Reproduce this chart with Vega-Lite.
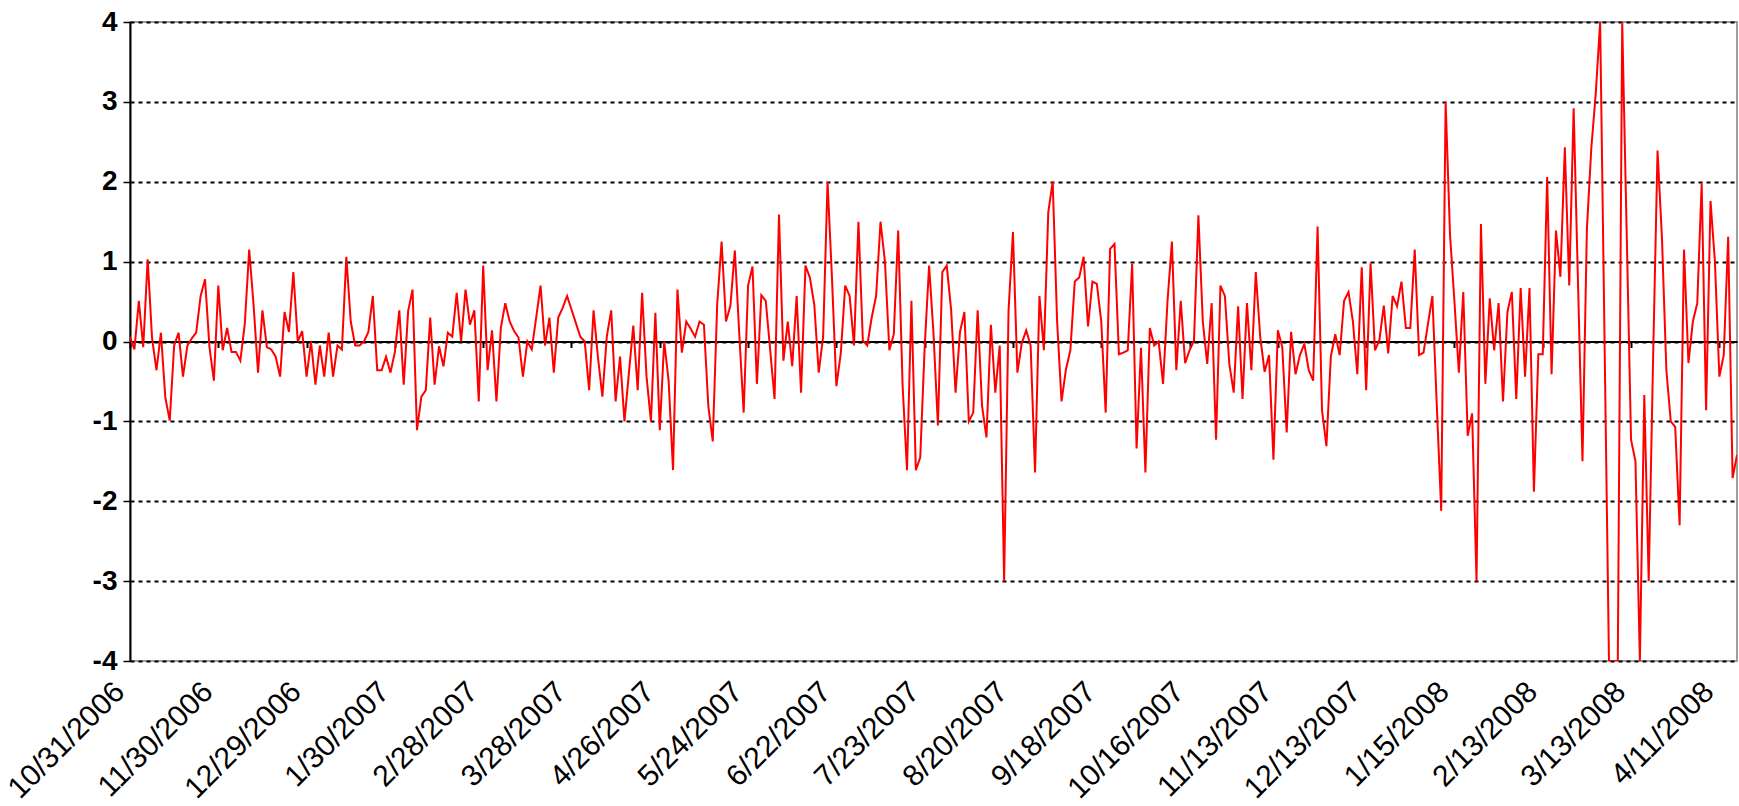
{
"$schema": "https://vega.github.io/schema/vega-lite/v6.json",
"width": 1607, "height": 639,
"autosize": "none",
"padding": {"left": 130, "top": 22, "right": 2, "bottom": 145},
"background": "white",
"config": {"view": {"stroke": "#808080", "strokeWidth": 1.5}, "font": "Liberation Sans"},
"data": {"values": [
{"i":0,"v":0.06},{"i":1,"v":-0.1},{"i":2,"v":0.51},{"i":3,"v":-0.07},{"i":4,"v":1.03},{"i":5,"v":0.04},{"i":6,"v":-0.36},{"i":7,"v":0.11},{"i":8,"v":-0.7},{"i":9,"v":-0.99},
{"i":10,"v":-0.05},{"i":11,"v":0.11},{"i":12,"v":-0.44},{"i":13,"v":-0.05},{"i":14,"v":0.04},{"i":15,"v":0.11},{"i":16,"v":0.57},{"i":17,"v":0.78},{"i":18,"v":-0.07},{"i":19,"v":-0.49},
{"i":20,"v":0.7},{"i":21,"v":-0.11},{"i":22,"v":0.17},{"i":23,"v":-0.13},{"i":24,"v":-0.13},{"i":25,"v":-0.24},{"i":26,"v":0.22},{"i":27,"v":1.15},{"i":28,"v":0.45},{"i":29,"v":-0.39},
{"i":30,"v":0.39},{"i":31,"v":-0.07},{"i":32,"v":-0.1},{"i":33,"v":-0.19},{"i":34,"v":-0.44},{"i":35,"v":0.37},{"i":36,"v":0.12},{"i":37,"v":0.87},{"i":38,"v":0.0},{"i":39,"v":0.13},
{"i":40,"v":-0.44},{"i":41,"v":0.0},{"i":42,"v":-0.54},{"i":43,"v":-0.05},{"i":44,"v":-0.44},{"i":45,"v":0.11},{"i":46,"v":-0.44},{"i":47,"v":-0.05},{"i":48,"v":-0.1},{"i":49,"v":1.06},
{"i":50,"v":0.25},{"i":51,"v":-0.05},{"i":52,"v":-0.05},{"i":53,"v":0.0},{"i":54,"v":0.12},{"i":55,"v":0.57},{"i":56,"v":-0.36},{"i":57,"v":-0.36},{"i":58,"v":-0.19},{"i":59,"v":-0.39},
{"i":60,"v":-0.13},{"i":61,"v":0.39},{"i":62,"v":-0.54},{"i":63,"v":0.38},{"i":64,"v":0.65},{"i":65,"v":-1.11},{"i":66,"v":-0.69},{"i":67,"v":-0.61},{"i":68,"v":0.3},{"i":69,"v":-0.54},
{"i":70,"v":-0.06},{"i":71,"v":-0.31},{"i":72,"v":0.11},{"i":73,"v":0.06},{"i":74,"v":0.61},{"i":75,"v":0.0},{"i":76,"v":0.65},{"i":77,"v":0.21},{"i":78,"v":0.39},{"i":79,"v":-0.75},
{"i":80,"v":0.95},{"i":81,"v":-0.36},{"i":82,"v":0.14},{"i":83,"v":-0.75},{"i":84,"v":0.17},{"i":85,"v":0.48},{"i":86,"v":0.25},{"i":87,"v":0.13},{"i":88,"v":0.05},{"i":89,"v":-0.44},
{"i":90,"v":0.0},{"i":91,"v":-0.1},{"i":92,"v":0.3},{"i":93,"v":0.7},{"i":94,"v":-0.05},{"i":95,"v":0.3},{"i":96,"v":-0.39},{"i":97,"v":0.3},{"i":98,"v":0.42},{"i":99,"v":0.57},
{"i":100,"v":0.4},{"i":101,"v":0.23},{"i":102,"v":0.06},{"i":103,"v":0.0},{"i":104,"v":-0.61},{"i":105,"v":0.39},{"i":106,"v":-0.2},{"i":107,"v":-0.69},{"i":108,"v":0.06},{"i":109,"v":0.39},
{"i":110,"v":-0.75},{"i":111,"v":-0.19},{"i":112,"v":-1.0},{"i":113,"v":-0.4},{"i":114,"v":0.2},{"i":115,"v":-0.61},{"i":116,"v":0.61},{"i":117,"v":-0.44},{"i":118,"v":-1.0},{"i":119,"v":0.36},
{"i":120,"v":-1.11},{"i":121,"v":0.0},{"i":122,"v":-0.49},{"i":123,"v":-1.61},{"i":124,"v":0.65},{"i":125,"v":-0.14},{"i":126,"v":0.25},{"i":127,"v":0.16},{"i":128,"v":0.06},{"i":129,"v":0.25},
{"i":130,"v":0.21},{"i":131,"v":-0.81},{"i":132,"v":-1.25},{"i":133,"v":0.46},{"i":134,"v":1.25},{"i":135,"v":0.25},{"i":136,"v":0.45},{"i":137,"v":1.14},{"i":138,"v":0.1},{"i":139,"v":-0.89},
{"i":140,"v":0.7},{"i":141,"v":0.94},{"i":142,"v":-0.53},{"i":143,"v":0.58},{"i":144,"v":0.51},{"i":145,"v":-0.1},{"i":146,"v":-0.72},{"i":147,"v":1.59},{"i":148,"v":-0.24},{"i":149,"v":0.25},
{"i":150,"v":-0.31},{"i":151,"v":0.57},{"i":152,"v":-0.64},{"i":153,"v":0.95},{"i":154,"v":0.8},{"i":155,"v":0.46},{"i":156,"v":-0.39},{"i":157,"v":0.06},{"i":158,"v":2.0},{"i":159,"v":0.8},
{"i":160,"v":-0.56},{"i":161,"v":-0.15},{"i":162,"v":0.7},{"i":163,"v":0.57},{"i":164,"v":-0.05},{"i":165,"v":1.5},{"i":166,"v":0.01},{"i":167,"v":-0.05},{"i":168,"v":0.3},{"i":169,"v":0.57},
{"i":170,"v":1.5},{"i":171,"v":1.0},{"i":172,"v":-0.11},{"i":173,"v":0.09},{"i":174,"v":1.39},{"i":175,"v":-0.55},{"i":176,"v":-1.61},{"i":177,"v":0.51},{"i":178,"v":-1.61},{"i":179,"v":-1.45},
{"i":180,"v":-0.07},{"i":181,"v":0.95},{"i":182,"v":0.1},{"i":183,"v":-1.05},{"i":184,"v":0.87},{"i":185,"v":0.95},{"i":186,"v":0.39},{"i":187,"v":-0.64},{"i":188,"v":0.12},{"i":189,"v":0.37},
{"i":190,"v":-1.0},{"i":191,"v":-0.89},{"i":192,"v":0.39},{"i":193,"v":-0.81},{"i":194,"v":-1.2},{"i":195,"v":0.21},{"i":196,"v":-0.64},{"i":197,"v":-0.05},{"i":198,"v":-3.0},{"i":199,"v":0.39},
{"i":200,"v":1.37},{"i":201,"v":-0.39},{"i":202,"v":-0.02},{"i":203,"v":0.14},{"i":204,"v":-0.05},{"i":205,"v":-1.64},{"i":206,"v":0.57},{"i":207,"v":-0.11},{"i":208,"v":1.62},{"i":209,"v":2.0},
{"i":210,"v":0.25},{"i":211,"v":-0.75},{"i":212,"v":-0.35},{"i":213,"v":-0.11},{"i":214,"v":0.75},{"i":215,"v":0.8},{"i":216,"v":1.06},{"i":217,"v":0.19},{"i":218,"v":0.75},{"i":219,"v":0.72},
{"i":220,"v":0.25},{"i":221,"v":-0.89},{"i":222,"v":1.16},{"i":223,"v":1.22},{"i":224,"v":-0.16},{"i":225,"v":-0.14},{"i":226,"v":-0.11},{"i":227,"v":0.97},{"i":228,"v":-1.34},{"i":229,"v":-0.08},
{"i":230,"v":-1.64},{"i":231,"v":0.17},{"i":232,"v":-0.05},{"i":233,"v":0.0},{"i":234,"v":-0.53},{"i":235,"v":0.5},{"i":236,"v":1.25},{"i":237,"v":-0.36},{"i":238,"v":0.51},{"i":239,"v":-0.27},
{"i":240,"v":-0.11},{"i":241,"v":0.01},{"i":242,"v":1.58},{"i":243,"v":0.25},{"i":244,"v":-0.28},{"i":245,"v":0.48},{"i":246,"v":-1.23},{"i":247,"v":0.7},{"i":248,"v":0.57},{"i":249,"v":-0.28},
{"i":250,"v":-0.64},{"i":251,"v":0.44},{"i":252,"v":-0.72},{"i":253,"v":0.48},{"i":254,"v":-0.36},{"i":255,"v":0.87},{"i":256,"v":0.06},{"i":257,"v":-0.38},{"i":258,"v":-0.17},{"i":259,"v":-1.48},
{"i":260,"v":0.14},{"i":261,"v":-0.07},{"i":262,"v":-1.14},{"i":263,"v":0.12},{"i":264,"v":-0.41},{"i":265,"v":-0.17},{"i":266,"v":-0.03},{"i":267,"v":-0.36},{"i":268,"v":-0.49},{"i":269,"v":1.44},
{"i":270,"v":-0.86},{"i":271,"v":-1.31},{"i":272,"v":-0.19},{"i":273,"v":0.09},{"i":274,"v":-0.17},{"i":275,"v":0.51},{"i":276,"v":0.62},{"i":277,"v":0.25},{"i":278,"v":-0.41},{"i":279,"v":0.93},
{"i":280,"v":-0.61},{"i":281,"v":0.98},{"i":282,"v":-0.11},{"i":283,"v":0.02},{"i":284,"v":0.45},{"i":285,"v":-0.15},{"i":286,"v":0.57},{"i":287,"v":0.44},{"i":288,"v":0.75},{"i":289,"v":0.17},
{"i":290,"v":0.17},{"i":291,"v":1.15},{"i":292,"v":-0.17},{"i":293,"v":-0.14},{"i":294,"v":0.22},{"i":295,"v":0.57},{"i":296,"v":-0.8},{"i":297,"v":-2.12},{"i":298,"v":3.0},{"i":299,"v":1.33},
{"i":300,"v":0.5},{"i":301,"v":-0.39},{"i":302,"v":0.62},{"i":303,"v":-1.18},{"i":304,"v":-0.9},{"i":305,"v":-3.0},{"i":306,"v":1.47},{"i":307,"v":-0.53},{"i":308,"v":0.54},{"i":309,"v":-0.11},
{"i":310,"v":0.48},{"i":311,"v":-0.75},{"i":312,"v":0.37},{"i":313,"v":0.62},{"i":314,"v":-0.72},{"i":315,"v":0.67},{"i":316,"v":-0.44},{"i":317,"v":0.67},{"i":318,"v":-1.88},{"i":319,"v":-0.16},
{"i":320,"v":-0.16},{"i":321,"v":2.06},{"i":322,"v":-0.41},{"i":323,"v":1.39},{"i":324,"v":0.81},{"i":325,"v":2.43},{"i":326,"v":0.7},{"i":327,"v":2.92},{"i":328,"v":0.7},{"i":329,"v":-1.5},
{"i":330,"v":1.41},{"i":331,"v":2.42},{"i":332,"v":3.1},{"i":333,"v":4.0},{"i":334,"v":0.0},{"i":335,"v":-4.0},{"i":336,"v":-4.0},{"i":337,"v":-4.0},{"i":338,"v":4.0},{"i":339,"v":1.4},
{"i":340,"v":-1.23},{"i":341,"v":-1.5},{"i":342,"v":-4.0},{"i":343,"v":-0.67},{"i":344,"v":-3.0},{"i":345,"v":-0.2},{"i":346,"v":2.39},{"i":347,"v":1.3},{"i":348,"v":-0.36},{"i":349,"v":-1.0},
{"i":350,"v":-1.07},{"i":351,"v":-2.3},{"i":352,"v":1.15},{"i":353,"v":-0.27},{"i":354,"v":0.25},{"i":355,"v":0.48},{"i":356,"v":1.98},{"i":357,"v":-0.86},{"i":358,"v":1.76},{"i":359,"v":1.0},
{"i":360,"v":-0.44},{"i":361,"v":-0.17},{"i":362,"v":1.31},{"i":363,"v":-1.71},{"i":364,"v":-1.42}
]},
"layer": [
{"mark": {"type": "line", "color": "#FF0000", "strokeWidth": 2, "clip": true},
 "encoding": {
  "x": {"field": "i", "type": "quantitative",
        "scale": {"domain": [0, 364], "nice": false, "zero": false},
        "axis": {"orient": "bottom", "offset": -319.5, "title": null,
                 "values": [0,20,40,60,80,100,120,140,160,180,200,220,240,260,280,300,320,340,360],
                 "labelExpr": "['10/31/2006','11/30/2006','12/29/2006','1/30/2007','2/28/2007','3/28/2007','4/26/2007','5/24/2007','6/22/2007','7/23/2007','8/20/2007','9/18/2007','10/16/2007','11/13/2007','12/13/2007','1/15/2008','2/13/2008','3/13/2008','4/11/2008'][round(datum.value / 20)]",
                 "labelAngle": -45, "labelAlign": "right", "labelBaseline": "bottom",
                 "labelPadding": 350, "labelFont": "Liberation Sans", "labelFontSize": 30,
                 "labelColor": "black", "labelOverlap": false, "labelFlush": false, "labelBound": false,
                 "domainColor": "black", "domainWidth": 2, "tickColor": "black", "tickWidth": 2, "tickSize": 6,
                 "grid": false}},
  "y": {"field": "v", "type": "quantitative",
        "scale": {"domain": [-4, 4], "nice": false, "zero": false},
        "axis": {"title": null, "values": [-4,-3,-2,-1,0,1,2,3,4],
                 "labelExpr": "datum.value < 0 ? '-' + abs(datum.value) : '' + datum.value",
                 "labelFont": "Liberation Sans", "labelFontWeight": "bold", "labelFontSize": 28, "labelColor": "black",
                 "labelPadding": 6, "domainColor": "black", "domainWidth": 2,
                 "tickColor": "black", "tickSize": 7, "tickWidth": 1.5,
                 "grid": true, "gridColor": "black", "gridDash": [4, 4], "gridWidth": 2, "gridOpacity": 1}}
 }}
]
}
